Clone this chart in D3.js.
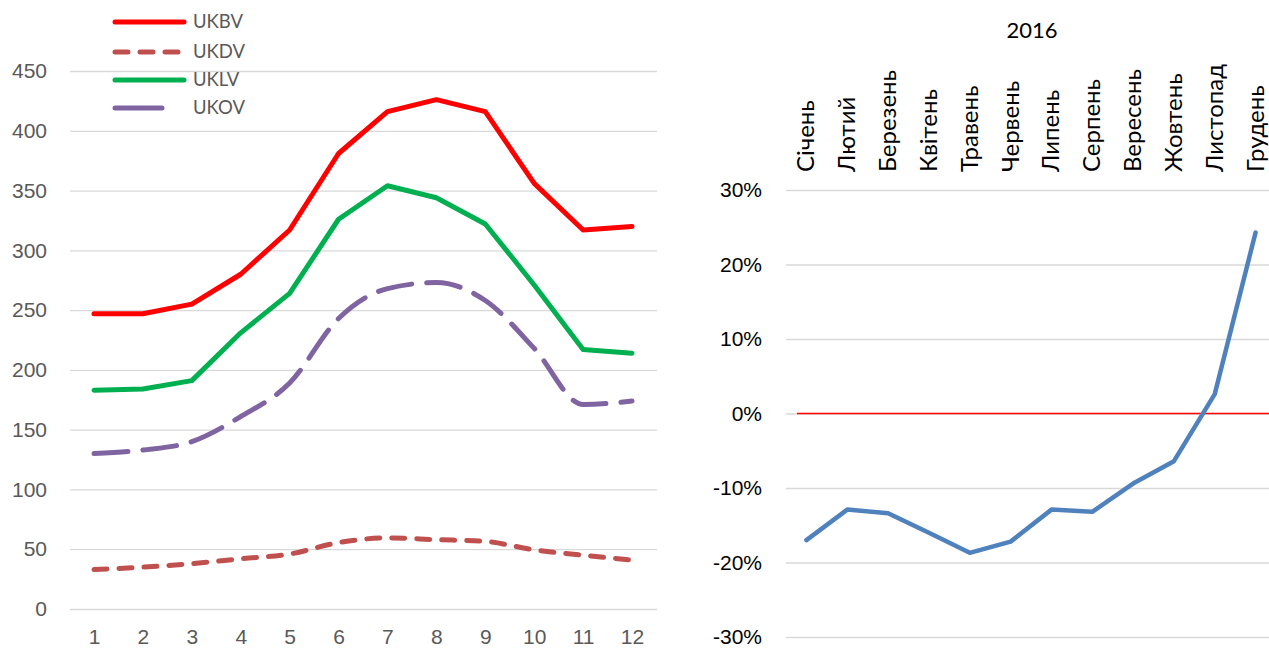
<!DOCTYPE html>
<html>
<head>
<meta charset="utf-8">
<script src="https://cdn.jsdelivr.net/npm/d3@7"></script>
<style>
  html, body { margin: 0; padding: 0; background: #fff; }
  svg { display: block; font-family: Lato, "Open Sans", "Liberation Sans", sans-serif; }
</style>
</head>
<body>
<svg id="chart" width="1269" height="651"></svg>
<script>
// Left panel: monthly values per series
const months = [1, 2, 3, 4, 5, 6, 7, 8, 9, 10, 11, 12];
const ukbv = [247, 247, 255, 280, 317, 381, 416, 426, 416, 356, 317, 320];
const ukdv = [33, 35, 38, 42, 46, 55.5, 59.5, 58, 56.5, 49.5, 45, 41];
const uklv = [183, 184, 191, 231, 264, 326, 354, 344, 322, 271, 217, 214];
const ukov = [130, 133, 140, 161, 189, 243, 268, 273, 258, 218, 171, 174];
const leftTicks = [0, 50, 100, 150, 200, 250, 300, 350, 400, 450];

// Right panel: 2016 change by month
const monthNames = ["Січень", "Лютий", "Березень", "Квітень", "Травень", "Червень",
  "Липень", "Серпень", "Вересень", "Жовтень", "Листопад", "Грудень"];
const change2016 = [-0.170, -0.129, -0.134, -0.160, -0.187, -0.172,
  -0.129, -0.132, -0.094, -0.064, 0.026, 0.243];
const rightTicks = [-0.3, -0.2, -0.1, 0, 0.1, 0.2, 0.3];

const svg = d3.select("#chart");
const grid = "#d9d9d9";

// ---------- left panel ----------
const xL = d3.scalePoint().domain(months).range([94, 632]);
const yL = d3.scaleLinear().domain([0, 450]).range([609, 71]);

const left = svg.append("g");
left.append("g").attr("transform", "translate(657,0)")
  .call(d3.axisLeft(yL).tickValues(leftTicks).tickSize(587).tickFormat(""))
  .call(g => g.select(".domain").remove())
  .call(g => g.selectAll("line").attr("stroke", grid).attr("stroke-width", 1.3));
left.append("g").attr("transform", "translate(70,0)")
  .call(d3.axisLeft(yL).tickValues(leftTicks).tickSize(0).tickPadding(23))
  .call(g => g.select(".domain").remove())
  .call(g => g.selectAll("text").attr("fill", "#595959").attr("font-size", 21));
left.append("g").attr("transform", "translate(0,609)")
  .call(d3.axisBottom(xL).tickSize(0).tickPadding(20))
  .call(g => g.select(".domain").remove())
  .call(g => g.selectAll("text").attr("fill", "#595959").attr("font-size", 21));

const series = [
  { name: "UKBV", values: ukbv, color: "#ff0000", dash: null, curve: d3.curveLinear },
  { name: "UKDV", values: ukdv, color: "#c0504d", dash: "13,12", curve: d3.curveMonotoneX },
  { name: "UKLV", values: uklv, color: "#00b050", dash: null, curve: d3.curveLinear },
  { name: "UKOV", values: ukov, color: "#8064a2", dash: "34,15", curve: d3.curveMonotoneX }
];

series.forEach(s => {
  const line = d3.line().x((d, i) => xL(months[i])).y(d => yL(d)).curve(s.curve);
  left.append("path")
    .attr("d", line(s.values))
    .attr("fill", "none")
    .attr("stroke", s.color)
    .attr("stroke-width", 5)
    .attr("stroke-linecap", "round")
    .attr("stroke-linejoin", "round")
    .attr("stroke-dasharray", s.dash);
});

// legend
const legendY = [22, 52, 80, 108];
const legendLen = [73, 73, 73, 51];
series.forEach((s, i) => {
  const g = left.append("g").attr("transform", `translate(0,${legendY[i]})`);
  g.append("line")
    .attr("x1", 115).attr("x2", 115 + legendLen[i] - 4)
    .attr("stroke", s.color).attr("stroke-width", 5)
    .attr("stroke-linecap", "round")
    .attr("stroke-dasharray", s.name === "UKDV" ? "13,12" : null);
  g.append("text")
    .attr("x", 193).attr("y", 0).attr("dy", "0.35em")
    .attr("fill", "#595959").attr("font-size", 18.5)
    .text(s.name);
});

// ---------- right panel ----------
const xR = d3.scaleBand().domain(monthNames).range([786, 1276]);
const yR = d3.scaleLinear().domain([-0.3, 0.3]).range([637, 190]);
const right = svg.append("g");

right.append("g").attr("transform", "translate(1276,0)")
  .call(d3.axisLeft(yR).tickValues(rightTicks).tickSize(490).tickFormat(""))
  .call(g => g.select(".domain").remove())
  .call(g => g.selectAll("line").attr("stroke", grid).attr("stroke-width", 1.3));
right.append("g").attr("transform", "translate(786,0)")
  .call(d3.axisLeft(yR).tickValues(rightTicks).tickSize(0).tickPadding(24)
    .tickFormat(d3.format(".0%")))
  .call(g => g.select(".domain").remove())
  .call(g => g.selectAll("text").attr("fill", "#000").attr("font-size", 21)
    .text(d => d3.format(".0%")(d).replace("−", "-")));

// zero reference line
right.append("line")
  .attr("x1", 797).attr("x2", 1269)
  .attr("y1", yR(0)).attr("y2", yR(0))
  .attr("stroke", "#ff0000").attr("stroke-width", 1.5);

// month labels above the plot, rotated
right.selectAll("text.month").data(monthNames).join("text")
  .attr("class", "month")
  .attr("transform", d => `translate(${xR(d) + xR.bandwidth() / 2 + 8},172) rotate(-90)`)
  .attr("text-anchor", "start")
  .attr("fill", "#000").attr("font-size", 24)
  .text(d => d);

right.append("text")
  .attr("x", 1032).attr("y", 30).attr("dy", "0.35em")
  .attr("text-anchor", "middle")
  .attr("fill", "#000").attr("font-size", 22)
  .text("2016");

const lineR = d3.line()
  .x((d, i) => xR(monthNames[i]) + xR.bandwidth() / 2)
  .y(d => yR(d));
right.append("path")
  .attr("d", lineR(change2016))
  .attr("fill", "none")
  .attr("stroke", "#4f81bd")
  .attr("stroke-width", 4.5)
  .attr("stroke-linecap", "round")
  .attr("stroke-linejoin", "round");
</script>
</body>
</html>
